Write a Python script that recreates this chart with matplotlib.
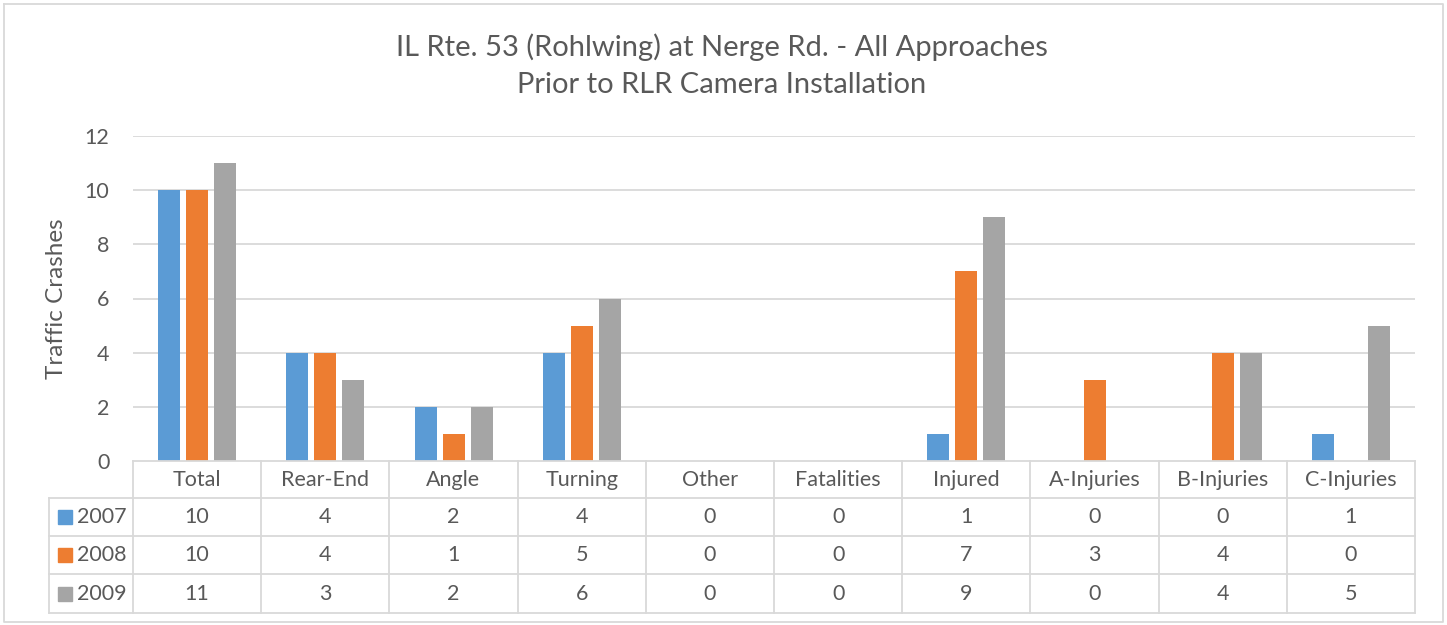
import numpy as np
import matplotlib.pyplot as plt

plt.rcParams['font.family'] = ['Lato', 'DejaVu Sans']

# data
categories = ['Total', 'Rear-End', 'Angle', 'Turning', 'Other', 'Fatalities',
              'Injured', 'A-Injuries', 'B-Injuries', 'C-Injuries']
years = ['2007', '2008', '2009']
crashes_2007 = [10, 4, 2, 4, 0, 0, 1, 0, 0, 1]
crashes_2008 = [10, 4, 1, 5, 0, 0, 7, 3, 4, 0]
crashes_2009 = [11, 3, 2, 6, 0, 0, 9, 0, 4, 5]
series = [crashes_2007, crashes_2008, crashes_2009]
colors = ['#5B9BD5', '#ED7D31', '#A5A5A5']
yticks = [0, 2, 4, 6, 8, 10, 12]

W, H = 1447, 625
fig = plt.figure(figsize=(W / 100, H / 100), dpi=100)

# plot area in pixels
px0, px1, py_top, py_bot = 133, 1415, 136, 461
grid_c = '#D9D9D9'
text_c = '#595959'
fs = 15.5

ax = fig.add_axes([px0 / W, 1 - py_bot / H, (px1 - px0) / W, (py_bot - py_top) / H])
n = len(categories)
x = np.arange(n)
bw = 22 / 128.2
off = 28 / 128.2
for i, (vals, c) in enumerate(zip(series, colors)):
    ax.bar(x + (i - 1) * off, vals, width=bw, color=c, zorder=3)
ax.set_xlim(-0.5, n - 0.5)
ax.set_ylim(0, 12)
ax.set_yticks(yticks)
ax.set_yticklabels([str(t) for t in yticks], fontsize=fs, color=text_c)
ax.tick_params(axis='y', length=0, pad=17)
ax.set_xticks([])
for t in yticks[1:]:
    ax.axhline(t, color=grid_c, lw=1.3, zorder=1)
for s in ax.spines.values():
    s.set_visible(False)
ax.patch.set_alpha(0)
ax.set_ylabel('Traffic Crashes', fontsize=17.5, color=text_c, labelpad=13)

# overlay in pixel coords for table, border, title
ov = fig.add_axes([0, 0, 1, 1], zorder=-1)
ov.set_xlim(0, W)
ov.set_ylim(H, 0)
ov.axis('off')

# chart border
ov.plot([4, 1443, 1443, 4, 4], [4, 4, 622, 622, 4], color=grid_c, lw=1.3)

ov.text(W / 2 - 2, 47, 'IL Rte. 53 (Rohlwing) at Nerge Rd. - All Approaches',
        ha='center', va='center', fontsize=21, color=text_c)
ov.text(W / 2 - 2, 85, 'Prior to RLR Camera Installation',
        ha='center', va='center', fontsize=21, color=text_c)

# data table
colw = (px1 - px0) / n
row_y = [461, 498, 536, 574, 613]
leg_x = 49
tbl = fig.add_axes([0, 0, 1, 1])
tbl.set_xlim(0, W)
tbl.set_ylim(H, 0)
tbl.axis('off')
lw = 1.3
tbl.plot([px0, px1], [row_y[0], row_y[0]], color=grid_c, lw=lw)
for y in row_y[1:]:
    tbl.plot([leg_x, px1], [y, y], color=grid_c, lw=lw)
for k in range(n + 1):
    xx = px0 + k * colw
    tbl.plot([xx, xx], [row_y[0], row_y[-1]], color=grid_c, lw=lw)
tbl.plot([leg_x, leg_x], [row_y[1], row_y[-1]], color=grid_c, lw=lw)

for k, cat in enumerate(categories):
    cx = px0 + (k + 0.5) * colw
    tbl.text(cx, (row_y[0] + row_y[1]) / 2, cat, ha='center', va='center',
             fontsize=fs, color=text_c)
    for r, vals in enumerate(series):
        tbl.text(cx, (row_y[r + 1] + row_y[r + 2]) / 2, str(vals[k]),
                 ha='center', va='center', fontsize=fs, color=text_c)

for r, (yr, c) in enumerate(zip(years, colors)):
    cy = (row_y[r + 1] + row_y[r + 2]) / 2
    tbl.add_patch(plt.Rectangle((58, cy - 7), 14, 14, color=c))
    tbl.text(77, cy, yr, ha='left', va='center', fontsize=fs, color=text_c)

fig.savefig('out.png', dpi=100)
